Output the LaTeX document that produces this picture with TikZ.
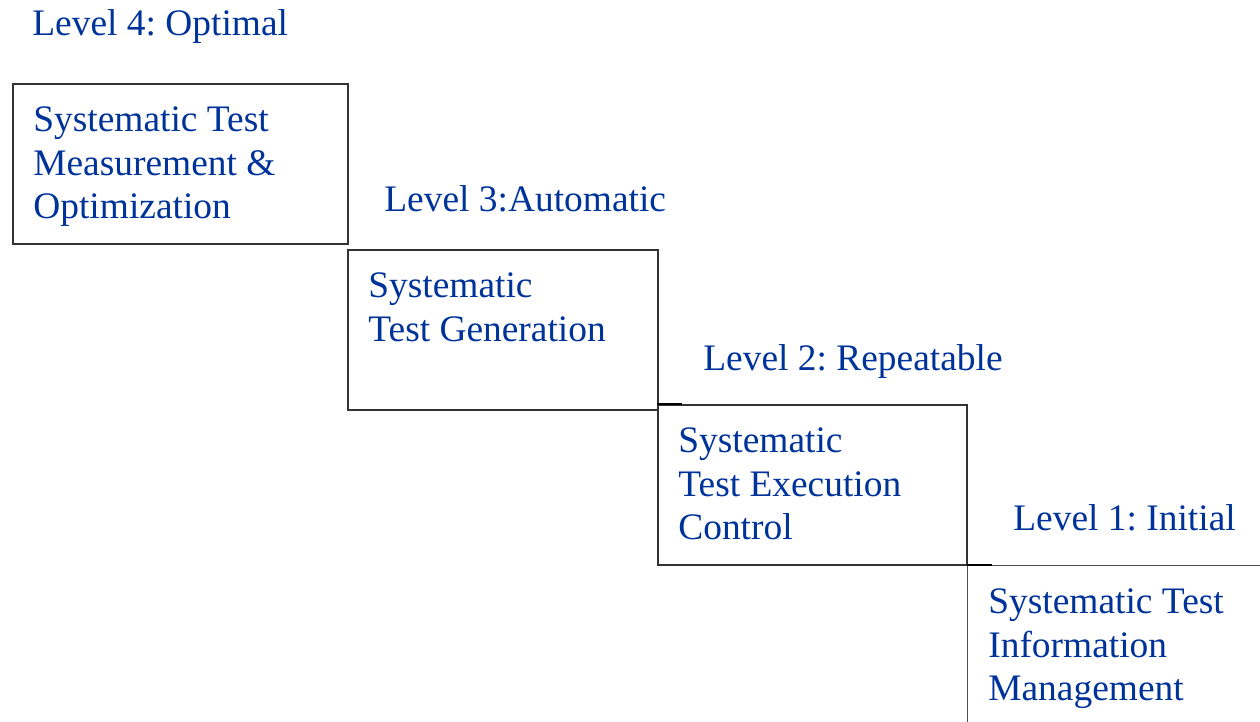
\documentclass[tikz,border=0pt]{standalone}
\usepackage{fontspec}
\setmainfont{Liberation Serif}
\frenchspacing
\definecolor{leveltext}{RGB}{0,51,153}
\tikzstyle{stepbox}=[draw=black!80,line width=0.9pt,minimum height=3.2cm,inner sep=0pt,anchor=north west]
\tikzstyle{boxtext}=[text=leveltext,font=\fontsize{21.3}{25}\selectfont,align=left,inner sep=0pt,anchor=base west]
\tikzstyle{stub}=[draw=black,line width=1.1pt]

\begin{document}
\begin{tikzpicture}[x=0.02cm,y=-0.02cm]
			\useasboundingbox (0,0) rectangle (1260,721);
			%Adding the steps
			\node[stepbox,minimum width=6.7cm] (b1) at (12,83) {};
			\node[stepbox,minimum width=6.2cm] (b2) at (347,249) {};
			\node[stepbox,minimum width=6.18cm] (b3) at (657,404) {};
			\node[stepbox,minimum width=6.4cm,draw=black!70,line width=0.7pt] (b4) at (967,565) {};
			\draw[stub] (b3.north west) -- ++(25,0);
			\draw[stub] (b4.north west) -- ++(25,0);
			%Adding the level names
			\foreach \pos/\name/\txt in {{(32,35)/l4/Level 4: Optimal},	{(384,211)/l3/Level 3:Automatic},
									 {(703,370)/l2/Level 2: Repeatable},	{(1013,530)/l1/Level 1: Initial}}
			\node[boxtext] (\name) at \pos {\txt};
			%Adding the box texts
			\foreach \stepnode/\name/\txt in {{b1/t4/{Systematic Test\\Measurement \&\\Optimization}},
									 {b2/t3/{Systematic\\Test Generation}},
									 {b3/t2/{Systematic\\Test Execution\\Control}},
									 {b4/t1/{Systematic Test\\Information\\Management}}}
			\node[boxtext,anchor=north west] (\name) at ([xshift=0.42cm,yshift=-0.46cm]\stepnode.north west) {\txt};
		\end{tikzpicture}
\end{document}
